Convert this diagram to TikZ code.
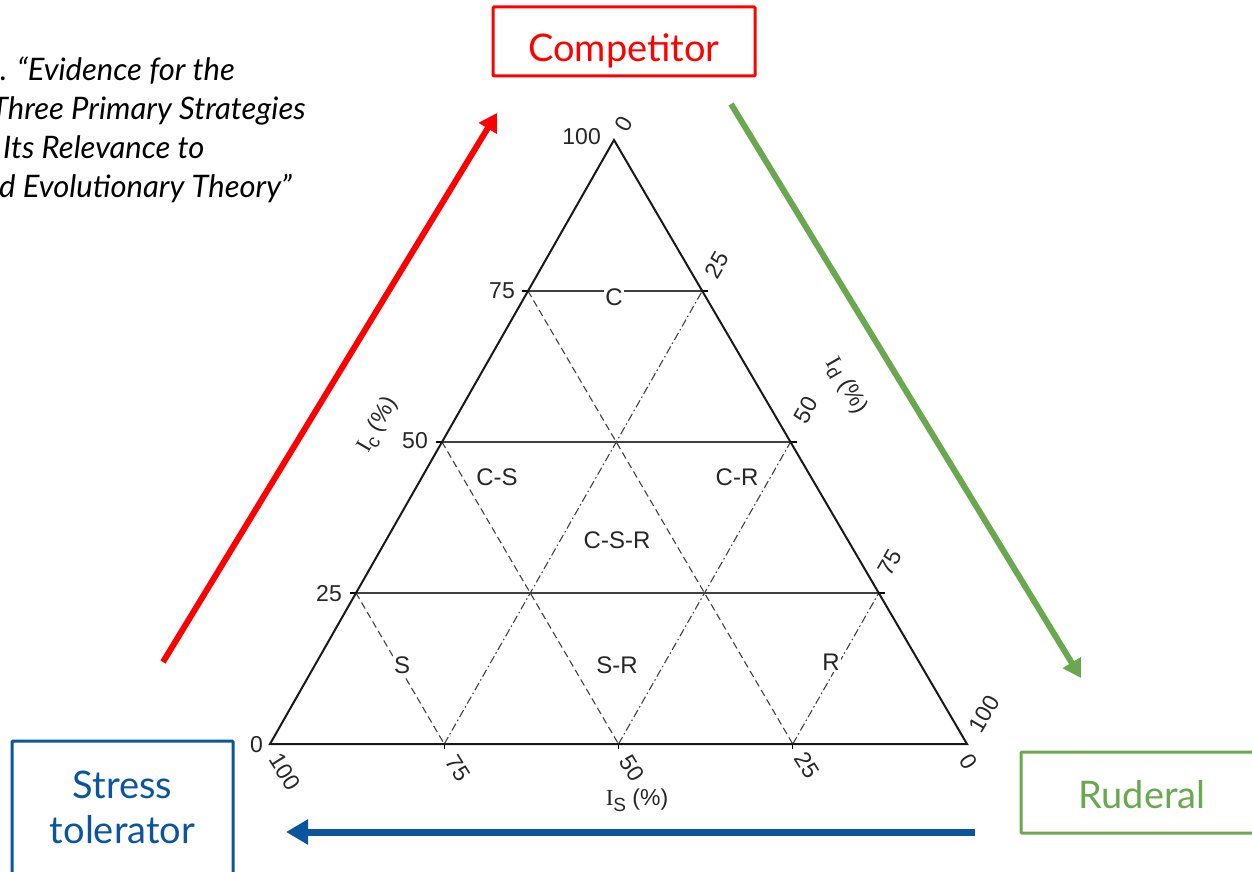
\documentclass[tikz,border=0pt]{standalone}
\usepackage{fontspec}
\setmainfont{Lato}
\newfontfamily\trif{Liberation Sans}
\newfontfamily\trisf{Liberation Serif}
\usetikzlibrary{arrows.meta,calc}
\definecolor{cred}{RGB}{255,0,0}
\definecolor{cgreen}{RGB}{106,168,79}
\definecolor{cblue}{RGB}{11,84,158}
\tikzset{
  rolebox/.style={draw, line width=3pt, rounded corners=1pt, inner sep=0pt, align=center},
  boxtext/.style={font=\fontsize{38}{45}\selectfont, align=center, inner sep=0pt},
  bigarrow/.style={line width=6pt, -{Triangle[length=18pt,width=20pt]}},
  tick/.style={font=\trif\fontsize{23}{25}\selectfont, inner sep=1pt, text=black!85},
  region/.style={font=\trif\fontsize{24}{26}\selectfont, fill=white, inner sep=1.5pt, text=black!85},
  grid/.style={line width=1.1pt, black!75},
  dashln/.style={grid, dash pattern=on 7pt off 4pt},
  dashdot/.style={grid, dash pattern=on 8pt off 3pt on 1.5pt off 3pt},
  quote/.style={font=\itshape\fontsize{31}{37}\selectfont, anchor=base west, inner sep=0pt}
}
\begin{document}
\begin{tikzpicture}[x=1pt,y=-1pt]
\useasboundingbox (0,0) rectangle (1252,872);
\clip (0,0) rectangle (1252,872);

% quote (cut at left edge)
\node[quote] (q1) at (0,81) {. “Evidence for the};
\node[quote] (q2) at (-9,120) {Three Primary Strategies};
\node[quote] (q3) at (3,158) {Its Relevance to};
\node[quote] (q4) at (-1,197) {d Evolutionary Theory”};

% boxes
\node[rolebox, draw=cred, minimum width=262pt, minimum height=69pt] (comp) at (624,41.5) {};
\node[boxtext, text=cred, anchor=base] (compt) at (624,62) {Competitor};
\node[rolebox, draw=cblue, minimum width=221pt, minimum height=140pt] (stress) at (122.5,811) {};
\node[boxtext, text=cblue] (stresst) at (122.5,807) {Stress\\tolerator};
\node[rolebox, draw=cgreen, minimum width=240pt, minimum height=81pt] (rud) at (1141,792.5) {};
\node[boxtext, text=cgreen, anchor=base] (rudt) at (1142,808) {Ruderal};

% triangle
\coordinate (A) at (614,140);
\coordinate (L) at (270,744);
\coordinate (R) at (967,744);
\foreach \t in {25,50,75}{
  \coordinate (l\t) at ($(L)!\t/100!(A)$);
  \coordinate (r\t) at ($(R)!\t/100!(A)$);
  \coordinate (b\t) at ($(L)!\t/100!(R)$);
}
% horizontal solid
\foreach \t in {25,50,75} \draw[grid] (l\t) -- (r\t);
% dashed (parallel to right side)
\draw[dashln] (l75) -- (b75);
\draw[dashln] (l50) -- (b50);
\draw[dashln] (l25) -- (b25);
% dash-dot (parallel to left side)
\draw[dashdot] (b25) -- (r75);
\draw[dashdot] (b50) -- (r50);
\draw[dashdot] (b75) -- (r25);
% ticks
\foreach \t in {25,50,75}{
  \draw[line width=1.1pt] ($(l\t)+(-6,0)$) -- (l\t);
  \draw[line width=1.1pt] ($(r\t)+(6,0)$) -- (r\t);
  \draw[line width=1.1pt] ($(b\t)+(0,5)$) -- (b\t);
}
\draw[line width=2pt, line join=miter, black!90] (A) -- (L) -- (R) -- cycle;

% region labels
\node[region] (rc) at (614,297) {C};
\node[region] (rcs) at (497,477) {C-S};
\node[region] (rcr) at (737,477) {C-R};
\node[region] (rcsr) at (617,540) {C-S-R};
\node[region] (rs) at (402,665) {S};
\node[region] (rsr) at (617,665) {S-R};
\node[region] (rr) at (831,662) {R};

% left axis numbers
\node[tick, anchor=east] (la100) at (602,137) {100};
\node[tick, anchor=east] (la75) at (516,291) {75};
\node[tick, anchor=east] (la50) at (429,441) {50};
\node[tick, anchor=east] (la25) at (343,594) {25};
\node[tick, anchor=east] (la0) at (264,745) {0};
% right axis numbers
\node[tick, rotate=60] (ra0) at (624,124) {0};
\node[tick, rotate=60] (ra25) at (717,265) {25};
\node[tick, rotate=60] (ra50) at (806,410) {50};
\node[tick, rotate=60] (ra75) at (890,563) {75};
\node[tick, rotate=60] (ra100) at (984,714) {100};
% bottom axis numbers
\node[tick, rotate=-58] (ba100) at (285,772) {100};
\node[tick, rotate=-58] (ba75) at (458,768) {75};
\node[tick, rotate=-58] (ba50) at (632,768) {50};
\node[tick, rotate=-58] (ba25) at (807,765) {25};
\node[tick, rotate=-58] (ba0) at (969,762) {0};

% axis titles
\node[tick, rotate=60] (tc) at (378,425) {{\trisf I}\raisebox{-5pt}{\fontsize{19}{20}\selectfont c} (\%)};
\node[tick, rotate=-60] (td) at (846,386) {{\trisf I}\raisebox{-5pt}{\fontsize{19}{20}\selectfont d} (\%)};
\node[tick] (ts) at (637,800) {{\trisf I}\raisebox{-6pt}{\fontsize{19}{20}\selectfont S} (\%)};

% big arrows
\coordinate (redS) at (163,662);
\coordinate (redE) at (497,113);
\coordinate (grS) at (731,104);
\coordinate (grE) at (1081,678);
\coordinate (blS) at (975,832);
\coordinate (blE) at (286,832);
\draw[bigarrow, draw=cred, fill=cred] (redS) -- (redE);
\draw[bigarrow, draw=cgreen, fill=cgreen] (grS) -- (grE);
\draw[bigarrow, line width=7pt, draw=cblue, fill=cblue,
      -{Triangle[length=22pt,width=24pt]}] (blS) -- (blE);
\end{tikzpicture}
\end{document}
